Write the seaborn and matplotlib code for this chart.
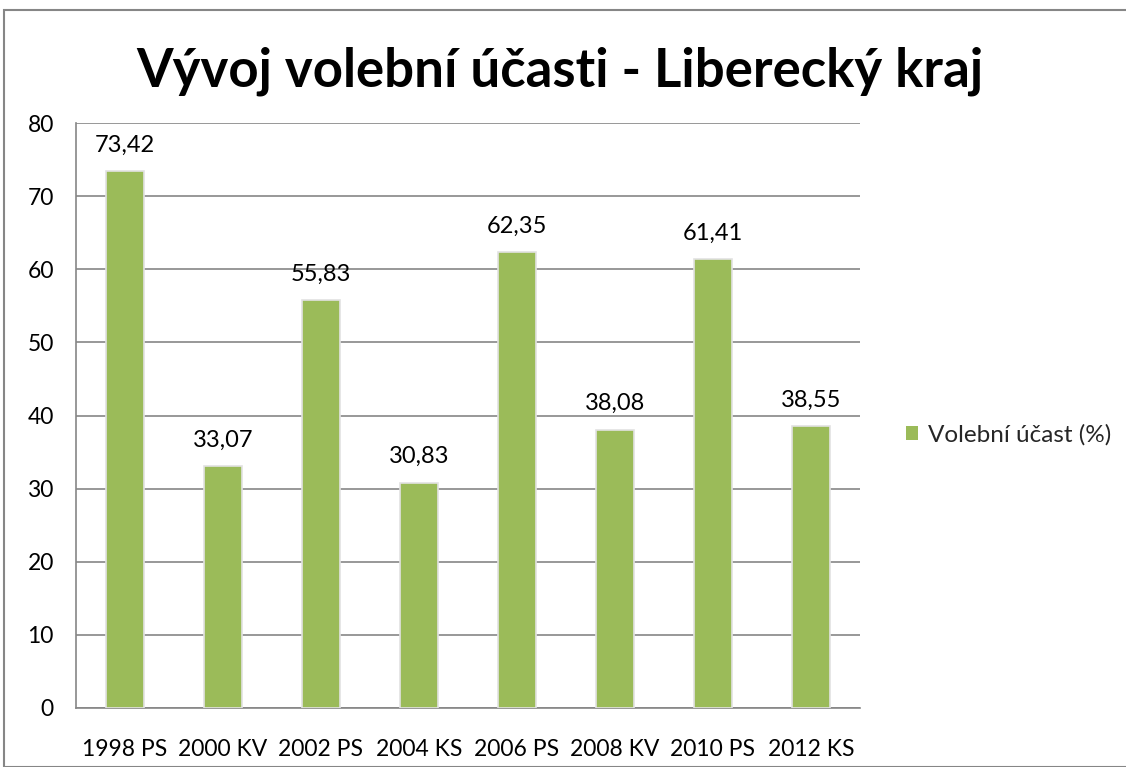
import matplotlib
matplotlib.use("Agg")
import matplotlib.pyplot as plt
import seaborn as sns
import pandas as pd
from matplotlib.patches import Rectangle, Patch

categories = ["1998 PS", "2000 KV", "2002 PS", "2004 KS", "2006 PS", "2008 KV", "2010 PS", "2012 KS"]
values = [73.42, 33.07, 55.83, 30.83, 62.35, 38.08, 61.41, 38.55]
series_name = "Volební účast (%)"
title = "Vývoj volební účasti - Liberecký kraj"

sns.set_theme(style="white")
plt.rcParams['font.family'] = ['Lato', 'DejaVu Sans']

df = pd.DataFrame({"kategorie": categories, "hodnota": values})

fig = plt.figure(figsize=(11.26, 7.67), dpi=100)
ax = fig.add_axes([76/1126, 59/767, (860-76)/1126, (708-123)/767])

sns.barplot(data=df, x="kategorie", y="hodnota", color="#9BBB59", width=0.38,
            saturation=1, ax=ax, edgecolor="#e2e2e2", linewidth=1.2, zorder=3)

ax.set_ylim(0, 80)
ax.set_xlim(-0.5, len(categories) - 0.5)
ax.set_yticks(range(0, 81, 10))
ax.yaxis.grid(True, color="#868686", linewidth=1.2, zorder=0)
ax.set_axisbelow(True)
ax.set_xlabel("")
ax.set_ylabel("")
for s in ["top", "right"]:
    ax.spines[s].set_visible(False)
for s in ["left", "bottom"]:
    ax.spines[s].set_color("#868686")
    ax.spines[s].set_linewidth(1.2)

ax.tick_params(axis="x", which="major", length=0, labelsize=16.5, pad=22, colors="black")
ax.set_xticks([i - 0.5 for i in range(len(categories) + 1)], minor=True)
ax.tick_params(axis="x", which="minor", length=8, width=1.2, color="#868686", direction="out")
ax.tick_params(axis="y", length=8, width=1.2, color="#868686", direction="out", labelsize=16.5, pad=8, labelcolor="black")

labels = [f"{v:.2f}".replace(".", ",") for v in values]
ax.bar_label(ax.containers[0], labels=labels, padding=11, fontsize=17, color="black")

fig.text(560/1126, 1 - 71/767, title, ha="center", va="center", fontsize=38, fontweight="bold", color="black")

handle = Patch(facecolor="#9BBB59", edgecolor="none")
fig.legend([handle], [series_name], loc="center left", bbox_to_anchor=(884/1126, 1 - 435/767),
           frameon=False, fontsize=17.5, handlelength=0.5, handleheight=0.5, handletextpad=0.4)

fig.patches.append(Rectangle((4/1126, 0), 1.1, 1 - 10/767, transform=fig.transFigure,
                             fill=False, edgecolor="#868686", linewidth=1.5, figure=fig))

fig.savefig("out.png", dpi=100)
